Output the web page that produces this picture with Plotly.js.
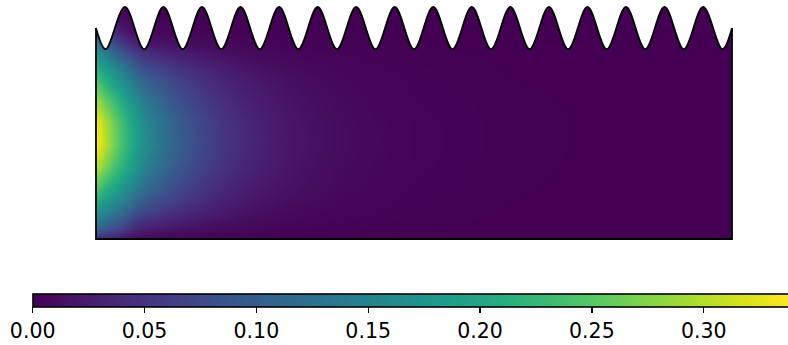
<!DOCTYPE html>
<html>
<head>
<meta charset="utf-8">
<script src="https://cdn.plot.ly/plotly-3.0.1.min.js"></script>
<style>html,body{margin:0;padding:0;background:#fff;}#chart{width:788px;height:345px;}</style>
</head>
<body>
<div id="chart"></div>
<script>
// Cell edges of the sampled field (domain x: 0..3, y: 0..1.1)
const xEdges = [0, 0.01, 0.04, 0.08, 0.13, 0.19, 0.26, 0.35, 0.46, 0.6, 0.78, 1.0, 1.3, 1.7, 2.2, 2.7, 3.0];
const yEdges = [0, 0.01, 0.05, 0.12, 0.2, 0.3, 0.4, 0.5, 0.6, 0.7, 0.8, 0.88, 0.95, 1.02, 1.1];

// Field values, one row per y band (bottom to top)
const fieldZ = [
  [0.018, 0.015, 0.012, 0.009, 0.005, 0.003, 0.002, 0.0016, 0.001, 0.0006, 0.0003, 0.0002, 0.0001, 0, 0, 0],
  [0.085, 0.077, 0.065, 0.05, 0.03, 0.017, 0.013, 0.0095, 0.0065, 0.004, 0.002, 0.001, 0.0003, 0.0001, 0, 0],
  [0.14, 0.13, 0.115, 0.095, 0.068, 0.046, 0.036, 0.026, 0.018, 0.011, 0.006, 0.0026, 0.0009, 0.0002, 0.00005, 0],
  [0.195, 0.183, 0.165, 0.143, 0.115, 0.085, 0.067, 0.049, 0.033, 0.02, 0.011, 0.0049, 0.0017, 0.0004, 0.0001, 0],
  [0.25, 0.237, 0.215, 0.19, 0.16, 0.124, 0.097, 0.071, 0.048, 0.029, 0.016, 0.0071, 0.0024, 0.0006, 0.00015, 0],
  [0.305, 0.29, 0.262, 0.23, 0.195, 0.155, 0.121, 0.088, 0.06, 0.036, 0.02, 0.0088, 0.003, 0.0007, 0.0002, 0],
  [0.337, 0.322, 0.29, 0.25, 0.21, 0.169, 0.132, 0.097, 0.066, 0.04, 0.0214, 0.0097, 0.0033, 0.0008, 0.0002, 0.00005],
  [0.33, 0.315, 0.285, 0.247, 0.207, 0.165, 0.129, 0.094, 0.064, 0.039, 0.021, 0.0094, 0.0032, 0.0008, 0.0002, 0],
  [0.29, 0.275, 0.25, 0.218, 0.182, 0.141, 0.11, 0.08, 0.055, 0.033, 0.018, 0.008, 0.0027, 0.0007, 0.0002, 0],
  [0.24, 0.226, 0.205, 0.176, 0.145, 0.109, 0.085, 0.062, 0.042, 0.026, 0.014, 0.0062, 0.0021, 0.0005, 0.0001, 0],
  [0.195, 0.18, 0.158, 0.125, 0.095, 0.065, 0.051, 0.037, 0.025, 0.015, 0.008, 0.0037, 0.0013, 0.0003, 0.0001, 0],
  [0.15, 0.13, 0.105, 0.073, 0.048, 0.026, 0.02, 0.015, 0.01, 0.006, 0.003, 0.0015, 0.0005, 0.0001, 0, 0],
  [0.088, 0.068, 0.048, 0.03, 0.016, 0.008, 0.006, 0.005, 0.003, 0.002, 0.001, 0.0005, 0.0002, 0, 0, 0],
  [0.03, 0.02, 0.012, 0.007, 0.004, 0.002, 0.001, 0.001, 0.001, 0.0005, 0.0003, 0.0001, 0, 0, 0, 0]
];

// Wavy top wall: start, alternating troughs / crests, end
const waveX = [0, 0.0455, 0.1364, 0.2273, 0.3182, 0.4091, 0.5, 0.5909, 0.6818, 0.7727, 0.8636,
  0.9545, 1.0455, 1.1364, 1.2273, 1.3182, 1.4091, 1.5, 1.5909, 1.6818, 1.7727, 1.8636, 1.9545,
  2.0455, 2.1364, 2.2273, 2.3182, 2.4091, 2.5, 2.5909, 2.6818, 2.7727, 2.8636, 2.9545, 3.0];
const waveY = [1.0, 0.9, 1.1, 0.9, 1.1, 0.9, 1.1, 0.9, 1.1, 0.9, 1.1,
  0.9, 1.1, 0.9, 1.1, 0.9, 1.1, 0.9, 1.1, 0.9, 1.1, 0.9, 1.1,
  0.9, 1.1, 0.9, 1.1, 0.9, 1.1, 0.9, 1.1, 0.9, 1.1, 0.9, 1.0];

// Straight walls: left, bottom, right
const wallX = [0, 0, 3, 3];
const wallY = [1, 0, 0, 1];
const maskTopY = 1.2;

const cMin = 0, cMax = 0.338;

const traces = [
  {
    type: 'heatmap', x: xEdges, y: yEdges, z: fieldZ,
    zsmooth: 'best', colorscale: 'Viridis', zmin: cMin, zmax: cMax,
    hoverinfo: 'skip',
    colorbar: {
      orientation: 'h',
      xref: 'container', yref: 'container',
      x: 32.7 / 788, xanchor: 'left',
      y: (345 - 294) / 345, yanchor: 'top',
      lenmode: 'pixels', len: 756,
      thicknessmode: 'pixels', thickness: 13,
      xpad: 0, ypad: 0,
      outlinecolor: '#000', outlinewidth: 1.6,
      ticks: 'outside', ticklen: 6, tickwidth: 1.3, tickcolor: '#000',
      tick0: 0, dtick: 0.05, tickformat: '.2f',
      tickfont: {family: 'DejaVu Sans', size: 20.5, color: '#000'},
      borderwidth: 0
    }
  },
  {
    type: 'scatter', mode: 'lines', x: waveX, y: waveY,
    line: {color: '#000', width: 1.8, shape: 'spline', smoothing: 1},
    hoverinfo: 'skip', showlegend: false
  },
  {
    type: 'scatter', mode: 'lines', x: [wallX[0], wallX[3]], y: [maskTopY, maskTopY],
    fill: 'tonexty', fillcolor: '#ffffff', line: {width: 0, color: 'rgba(0,0,0,0)'},
    hoverinfo: 'skip', showlegend: false
  },
  {
    type: 'scatter', mode: 'lines', x: wallX, y: wallY,
    line: {color: '#000', width: 1.8},
    hoverinfo: 'skip', showlegend: false
  }
];

const layout = {
  width: 788, height: 345,
  margin: {l: 0, r: 0, t: 0, b: 0, pad: 0, autoexpand: false},
  paper_bgcolor: '#fff', plot_bgcolor: '#fff',
  showlegend: false,
  xaxis: {range: [-96 / 212, 3 + 56 / 212], visible: false, fixedrange: true},
  yaxis: {range: [-106 / 210.9, 1.1 + 7 / 210.9], visible: false, fixedrange: true}
};

Plotly.newPlot('chart', traces, layout, {displayModeBar: false, staticPlot: true});
</script>
</body>
</html>
